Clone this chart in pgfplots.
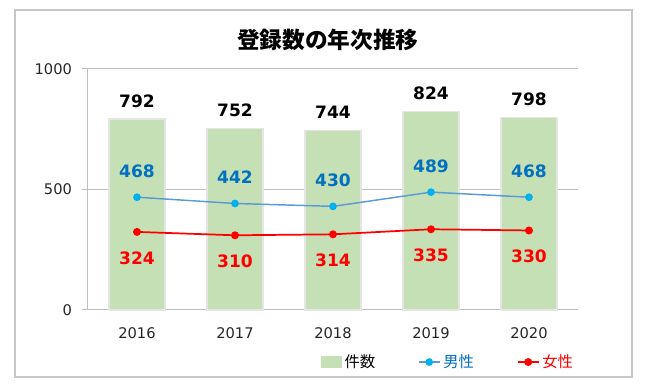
\documentclass[border=0pt]{standalone}
\usepackage{pgfplots}
\pgfplotsset{compat=1.18}
\usepackage{fontspec}
\setmainfont{DejaVu Sans}
\newfontfamily\cjk{Noto Sans CJK JP}
\definecolor{barg}{HTML}{C5E0B4}
\definecolor{lblue}{HTML}{5B9BD5}
\definecolor{mblue}{HTML}{00B0F0}
\definecolor{tblue}{HTML}{0070C0}
\definecolor{gridc}{HTML}{BFBFBF}
\definecolor{tickc}{HTML}{262626}
\begin{document}
\begin{tikzpicture}
\path[use as bounding box] (-66pt,-56.25pt) rectangle (419.25pt,232.5pt);
\draw[black!22, line width=0.9pt] (-54.75pt,-50.25pt) rectangle (408pt,225pt);
\node[font=\cjk\bfseries\fontsize{17}{20}\selectfont] at (180pt,202.5pt) {登録数の年次推移};
\begin{axis}[
  at={(0pt,0pt)}, anchor=south west,
  scale only axis, width=367.5pt, height=180.75pt,
  xmin=-0.5, xmax=4.5, ymin=0, ymax=1000,
  axis x line*=bottom, axis y line*=left,
  axis line style={gridc, line width=0.75pt},
  xtick={0,1,2,3,4}, xticklabels={2016,2017,2018,2019,2020},
  ytick={0,500,1000},
  ymajorgrids, grid style={gridc, line width=0.75pt},
  x tick style={draw=none},
  y tick style={gridc, line width=0.75pt},
  tick align=outside, major tick length=4.5pt,
  /pgf/number format/assume math mode=true,
  /pgf/number format/1000 sep={},
  tick label style={font=\fontsize{11}{13}\selectfont, text=tickc},
  xticklabel style={yshift=-5pt},
  yticklabel style={xshift=-4pt},
  clip=false,
  legend columns=3,
  legend style={at={(0.735,-0.216)}, anchor=center, draw=none, fill=none,
    font=\cjk\fontsize{11.5}{13}\selectfont,
    /tikz/every even column/.append style={column sep=30pt},
    inner sep=0pt},
  legend cell align=left,
]
\addplot[ybar, bar width=42pt, fill=barg, draw=black!10, line width=1pt,
  legend image code/.code={\fill[barg] (0pt,-3.75pt) rectangle (15pt,3.75pt);},
  nodes near coords,
  nodes near coords style={anchor=center, yshift=13.5pt, font=\bfseries\fontsize{12.8}{14}\selectfont, text=black}]
  coordinates {(0,792) (1,752) (2,744) (3,824) (4,798)};
\addlegendentry{件数}
\addplot[lblue, line width=1.1pt, mark=*, mark size=2.3pt, mark options={fill=mblue, draw=mblue},
  legend image code/.code={\draw[lblue, line width=1.1pt] (0pt,0pt) -- (16pt,0pt); \fill[mblue] (8pt,0pt) circle (2.3pt);},
  nodes near coords,
  nodes near coords style={anchor=center, yshift=19.5pt, font=\bfseries\fontsize{12.8}{14}\selectfont, text=tblue}]
  coordinates {(0,468) (1,442) (2,430) (3,489) (4,468)};
\addlegendentry{\textcolor{tblue}{男性}}
\addplot[red, line width=1.3pt, mark=*, mark size=2.3pt, mark options={fill=red, draw=red},
  legend image code/.code={\draw[red, line width=1.3pt] (0pt,0pt) -- (16pt,0pt); \fill[red] (8pt,0pt) circle (2.3pt);},
  nodes near coords,
  nodes near coords style={anchor=center, yshift=-19.5pt, font=\bfseries\fontsize{12.8}{14}\selectfont, text=red}]
  coordinates {(0,324) (1,310) (2,314) (3,335) (4,330)};
\addlegendentry{\textcolor{red}{女性}}
\end{axis}
\end{tikzpicture}
\end{document}
